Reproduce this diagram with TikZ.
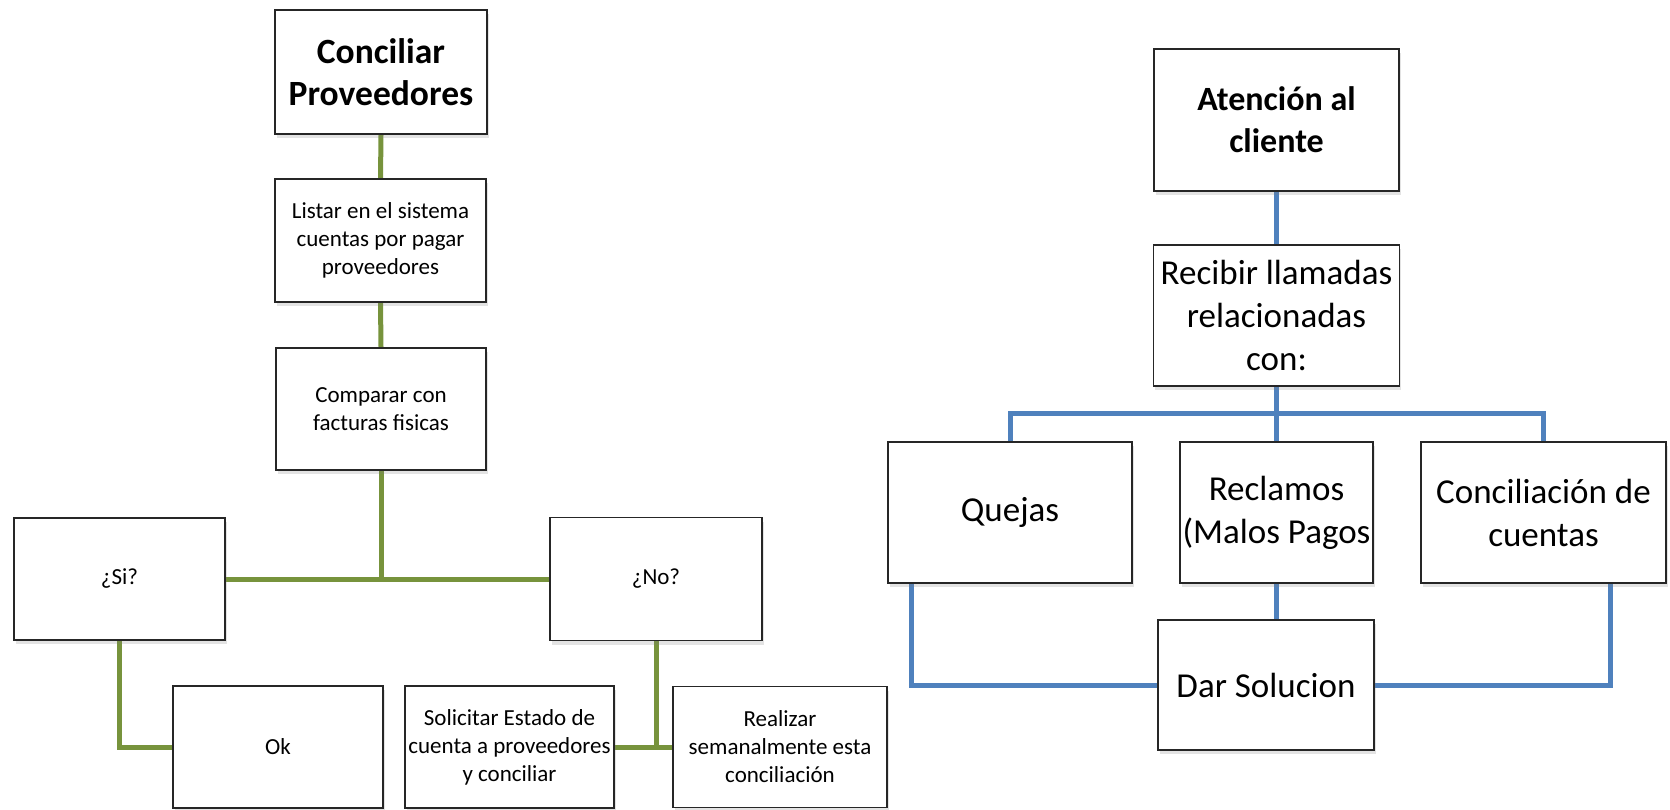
\documentclass[tikz,border=0pt]{standalone}
\usepackage{fontspec}
\setmainfont{Carlito}
\usetikzlibrary{shadows,backgrounds}
\definecolor{lgreen}{HTML}{77933C}
\definecolor{lblue}{HTML}{4F81BD}
\begin{document}
\begin{tikzpicture}[x=1pt,y=-1pt,
  box/.style={draw=black!85, line width=1.8pt, fill=white, inner sep=0pt, align=center,
    drop shadow={shadow xshift=1.5pt, shadow yshift=-4pt, opacity=0.22}},
  small/.style={font={\fontsize{23}{28}\selectfont}},
  big/.style={font={\fontsize{35}{43}\selectfont}},
  gline/.style={draw=lgreen, line width=5pt},
  bline/.style={draw=lblue, line width=5pt}]
\useasboundingbox (0,0) rectangle (1670,809);
% left chart
\node[box, minimum width=212pt, minimum height=124pt, font={\fontsize{35.5}{42}\selectfont\bfseries}] (cp) at (381,72) {Conciliar\\Proveedores};
\node[box, small, minimum width=211pt, minimum height=123pt] (listar) at (380.5,240.5) {Listar en el sistema\\cuentas por pagar\\proveedores};
\node[box, small, minimum width=210pt, minimum height=122pt] (comparar) at (381,409) {Comparar con\\facturas fisicas};
\node[box, small, minimum width=211pt, minimum height=122pt] (si) at (119.5,579) {¿Si?};
\node[box, small, minimum width=212pt, minimum height=123pt] (no) at (656,579) {¿No?};
\node[box, small, minimum width=210pt, minimum height=122pt] (ok) at (278,747) {Ok};
\node[box, small, minimum width=209pt, minimum height=122pt] (solicitar) at (509.5,747) {Solicitar Estado de\\cuenta a proveedores\\y conciliar};
\node[box, small, minimum width=214pt, minimum height=121pt] (realizar) at (780,747) {Realizar\\semanalmente esta\\conciliación};
% right chart
\node[box, minimum width=245pt, minimum height=142pt, font={\fontsize{34}{42}\selectfont\bfseries}] (atencion) at (1276.5,120) {Atención al\\cliente};
\node[box, big, minimum width=246pt, minimum height=141pt] (recibir) at (1276.5,315.5) {Recibir llamadas\\relacionadas\\con:};
\node[box, big, minimum width=244pt, minimum height=141pt] (quejas) at (1010,512.5) {Quejas};
\node[box, big, minimum width=193pt, minimum height=141pt] (reclamos) at (1276.5,512.5) {Reclamos\\(Malos Pagos};
\node[box, big, minimum width=245pt, minimum height=141pt] (concil) at (1543.5,512.5) {Conciliación de\\cuentas};
\node[box, big, minimum width=216pt, minimum height=130pt] (dar) at (1266,685) {Dar Solucion};
\coordinate (bus) at (0,413);
\begin{pgfonlayer}{background}
  \draw[gline] (cp.south) -- (listar.north);
  \draw[gline] (listar.south) -- (comparar.north);
  \draw[gline] (comparar.south) -- (comparar.south |- si.east);
  \draw[gline] (si.east) -- (no.west);
  \draw[gline] (si.south) |- (ok.west);
  \draw[gline] (solicitar.east) -- (realizar.west);
  \draw[gline] (no.south) -- (no.south |- realizar.west);
  \draw[bline] (atencion.south) -- (recibir.north);
  \draw[bline] (recibir.south) -- (reclamos.north);
  \draw[bline] (quejas.north) |- (bus -| reclamos.north) -| (concil.north);
  \draw[bline] (reclamos.south) -- (reclamos.south |- dar.north);
  \draw[bline] ([xshift=24pt]quejas.south west) |- (dar.west);
  \draw[bline] ([xshift=-56pt]concil.south east) |- (dar.east);
\end{pgfonlayer}
\end{tikzpicture}
\end{document}
